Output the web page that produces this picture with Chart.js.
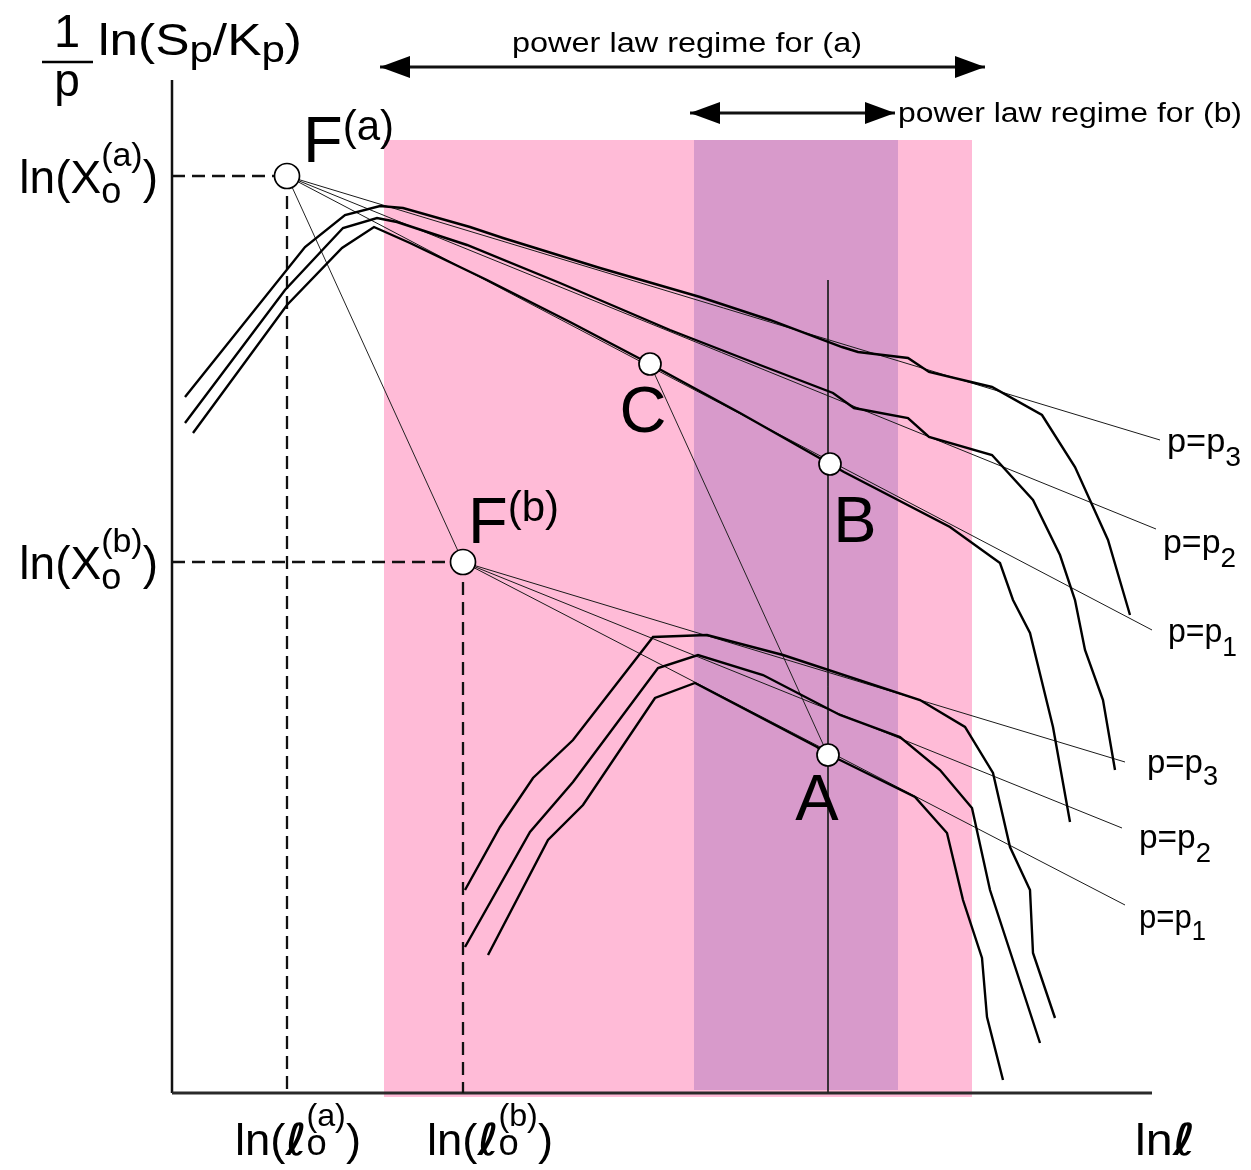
<!DOCTYPE html>
<html>
<head>
<meta charset="utf-8">
<script src="https://cdn.jsdelivr.net/npm/chart.js@4.4.1/dist/chart.umd.min.js"></script>
<style>
  html, body { margin: 0; padding: 0; background: #fff; }
  canvas { display: block; }
</style>
</head>
<body>
<canvas id="chart" width="1251" height="1170"></canvas>
<script>
// Schematic, so the scales are plain drawing units: x = ln(l), y = (1/p) ln(Sp/Kp), y grows downward
const axisH = [[172, 1093], [1152, 1093]];
const axisV = [[172, 80], [172, 1093]];
const regimeA = [384, 972];          // power law regime for (a)
const regimeB = [694, 898];          // power law regime for (b)
const regimeTop = 140;
const regimeBottomA = 1097;
const regimeBottomB = 1090;

const focusA = [287, 176];           // F(a)
const focusB = [463, 562];           // F(b)
const pointC = [650, 364];
const pointB = [830, 464];
const pointA = [828, 755];

// curve family (a), top to bottom
const upperP3 = [[185, 397], [305, 247], [345, 215], [380, 206], [403, 208], [470, 227], [503, 238], [600, 268], [700, 297],
  [770, 320], [842, 347], [858, 352], [908, 358], [929, 372], [992, 387], [1042, 415], [1075, 467], [1108, 540], [1130, 615]];
const upperP2 = [[185, 423], [285, 290], [343, 228], [377, 218], [397, 222], [467, 245], [560, 283], [670, 330], [760, 365],
  [833, 393], [854, 408], [908, 418], [929, 437], [992, 455], [1033, 500], [1060, 555], [1075, 600], [1085, 650], [1103, 700], [1115, 770]];
const upperP1 = [[193, 433], [287, 305], [342, 248], [374, 227], [410, 243], [487, 280], [570, 322], [650, 364], [740, 413],
  [830, 464], [844, 472], [950, 527], [1000, 563], [1013, 600], [1030, 633], [1053, 727], [1070, 822]];

// curve family (b), top to bottom
const lowerP3 = [[465, 890], [500, 827], [533, 778], [573, 740], [653, 637], [707, 635], [783, 655], [920, 700], [965, 727],
  [993, 773], [1010, 847], [1030, 890], [1033, 953], [1055, 1018]];
const lowerP2 = [[465, 947], [530, 832], [573, 782], [658, 668], [698, 655], [763, 675], [840, 715], [900, 737], [940, 770],
  [972, 808], [990, 890], [1040, 1043]];
const lowerP1 = [[488, 955], [548, 840], [583, 805], [655, 698], [695, 683], [817, 747], [828, 755], [840, 760], [915, 797],
  [947, 833], [963, 900], [982, 958], [987, 1017], [1003, 1080]];

// straight power-law fits through the focal points (ends at the p labels)
const raysA = [[1160, 440], [1156, 529], [1152, 630]];
const raysB = [[1125, 762], [1122, 828], [1125, 905]];
const guideAB = [focusA, focusB];
const guideCA = [pointC, pointA];
const guideVertical = [[828, 280], [828, 1093]];

const dashA = [[[172, 176], focusA], [focusA, [287, 1093]]];
const dashB = [[[172, 562], focusB], [focusB, [463, 1093]]];

const arrowA = [[380, 67], [985, 67]];
const arrowB = [[690, 113], [895, 113]];

const SANS = '"Liberation Sans", Arial, sans-serif';
const SCRIPT_L = '"DejaVu Sans", sans-serif';

const pts = arr => arr.map(p => ({ x: p[0], y: p[1] }));
const rect = (x0, x1, y0, y1) => pts([[x0, y0], [x1, y0], [x1, y1], [x0, y1], [x0, y0]]);

function line(data, opts) {
  return Object.assign({
    data: pts(data), showLine: true, pointRadius: 0, borderColor: '#000', borderWidth: 2.4,
    fill: false, tension: 0, order: 3
  }, opts);
}

const datasets = [];
datasets.push({
  data: pts([focusA, focusB]), showLine: false, pointRadius: 12.5, pointBackgroundColor: '#fff',
  pointBorderColor: '#000', pointBorderWidth: 1.7, order: 0
});
datasets.push({
  data: pts([pointC, pointB, pointA]), showLine: false, pointRadius: 11, pointBackgroundColor: '#fff',
  pointBorderColor: '#000', pointBorderWidth: 1.7, order: 0
});
[upperP3, upperP2, upperP1, lowerP3, lowerP2, lowerP1].forEach(c => datasets.push(line(c)));
raysA.forEach(e => datasets.push(line([focusA, e], { borderWidth: 1, borderColor: '#1a1a1a', order: 4 })));
raysB.forEach(e => datasets.push(line([focusB, e], { borderWidth: 1, borderColor: '#1a1a1a', order: 4 })));
[guideAB, guideCA, guideVertical].forEach(g => datasets.push(line(g, { borderWidth: 1, borderColor: '#222', order: 4 })));
dashA.concat(dashB).forEach(d => datasets.push(line(d, { borderWidth: 2.3, borderDash: [13, 7], borderColor: '#111', order: 5 })));
datasets.push(line(axisH, { borderWidth: 3, borderColor: '#2a2a2a', order: 6 }));
datasets.push(line(axisV, { borderWidth: 2.5, borderColor: '#111', order: 6 }));
datasets.push(line(arrowA, { borderWidth: 3, borderColor: '#111', order: 6, arrow: true }));
datasets.push(line(arrowB, { borderWidth: 3, borderColor: '#111', order: 6, arrow: true }));
datasets.push({
  data: rect(regimeB[0], regimeB[1], regimeTop, regimeBottomB), showLine: true, pointRadius: 0,
  borderWidth: 0, backgroundColor: '#d89acb', fill: 'shape', order: 9
});
datasets.push({
  data: rect(regimeA[0], regimeA[1], regimeTop, regimeBottomA), showLine: true, pointRadius: 0,
  borderWidth: 0, backgroundColor: '#ffbbd7', fill: 'shape', order: 10
});

// text labels: anchor in drawing units, parts flow left to right (stack = same start as previous part)
const labels = [
  { x: 98, y: 55, width: 204, parts: [{ t: 'ln(S', size: 44 }, { t: 'p', size: 36, dy: 7 }, { t: '/K', size: 44 }, { t: 'p', size: 36, dy: 7 }, { t: ')', size: 44 }] },
  { x: 67, y: 47, align: 'center', parts: [{ t: '1', size: 47 }] },
  { x: 67, y: 96, align: 'center', parts: [{ t: 'p', size: 46 }] },
  { x: 512, y: 52, width: 350, parts: [{ t: 'power law regime for (a)', size: 27 }] },
  { x: 898, y: 122, width: 344, parts: [{ t: 'power law regime for (b)', size: 27 }] },
  { x: 158, y: 193, align: 'right', parts: [{ t: 'ln(X', size: 46 }, { t: 'o', size: 36, dy: 10 }, { t: '(a)', size: 34, dy: -27, stack: true }, { t: ')', size: 46 }] },
  { x: 158, y: 579, align: 'right', parts: [{ t: 'ln(X', size: 46 }, { t: 'o', size: 36, dy: 10 }, { t: '(b)', size: 34, dy: -27, stack: true }, { t: ')', size: 46 }] },
  { x: 303, y: 162, parts: [{ t: 'F', size: 65 }, { t: '(a)', size: 42, dy: -22 }] },
  { x: 468, y: 543, parts: [{ t: 'F', size: 65 }, { t: '(b)', size: 42, dy: -22 }] },
  { x: 643, y: 432, align: 'center', parts: [{ t: 'C', size: 65 }] },
  { x: 855, y: 542, align: 'center', parts: [{ t: 'B', size: 65 }] },
  { x: 817, y: 820, align: 'center', parts: [{ t: 'A', size: 65 }] },
  { x: 1167, y: 452, width: 74, parts: [{ t: 'p=p', size: 34 }, { t: '3', size: 28, dy: 14 }] },
  { x: 1163, y: 553, width: 73, parts: [{ t: 'p=p', size: 34 }, { t: '2', size: 28, dy: 14 }] },
  { x: 1168, y: 642, width: 69, parts: [{ t: 'p=p', size: 34 }, { t: '1', size: 28, dy: 14 }] },
  { x: 1147, y: 773, width: 71, parts: [{ t: 'p=p', size: 34 }, { t: '3', size: 28, dy: 12 }] },
  { x: 1139, y: 848, width: 72, parts: [{ t: 'p=p', size: 34 }, { t: '2', size: 28, dy: 14 }] },
  { x: 1139, y: 928, width: 67, parts: [{ t: 'p=p', size: 34 }, { t: '1', size: 28, dy: 12 }] },
  { x: 235, y: 1155, width: 126, parts: [{ t: 'ln(', size: 45 }, { t: '\u2113', size: 44, family: SCRIPT_L, style: 'italic bold' }, { t: 'o', size: 36 }, { t: '(a)', size: 32, dy: -29, stack: true }, { t: ')', size: 45 }] },
  { x: 427, y: 1155, width: 126, parts: [{ t: 'ln(', size: 45 }, { t: '\u2113', size: 44, family: SCRIPT_L, style: 'italic bold' }, { t: 'o', size: 36 }, { t: '(b)', size: 32, dy: -29, stack: true }, { t: ')', size: 45 }] },
  { x: 1135, y: 1155, width: 60, parts: [{ t: 'ln', size: 45 }, { t: '\u2113', size: 44, family: SCRIPT_L, style: 'italic bold' }] }
];
const fractionBar = [[42, 62], [93, 62]];

function fontOf(p) {
  return (p.style || '') + ' ' + p.size + 'px ' + (p.family || SANS);
}

function drawLabel(ctx, xs, ys, lbl) {
  let cursor = 0, prevStart = 0;
  const placed = lbl.parts.map(p => {
    ctx.font = fontOf(p);
    const w = ctx.measureText(p.t).width;
    const start = p.stack ? prevStart : cursor;
    prevStart = start;
    cursor = Math.max(cursor, start + w);
    return { p, start };
  });
  const total = cursor;
  const sx = lbl.width ? lbl.width / total : 1;
  let x0 = xs.getPixelForValue(lbl.x);
  if (lbl.align === 'center') x0 -= total * sx / 2;
  if (lbl.align === 'right') x0 -= total * sx;
  const y0 = ys.getPixelForValue(lbl.y);
  ctx.save();
  ctx.translate(x0, y0);
  ctx.scale(sx, 1);
  ctx.fillStyle = '#000';
  ctx.textBaseline = 'alphabetic';
  ctx.textAlign = 'left';
  placed.forEach(({ p, start }) => {
    ctx.font = fontOf(p);
    ctx.fillText(p.t, start, p.dy || 0);
  });
  ctx.restore();
}

const annotate = {
  id: 'annotate',
  afterDatasetsDraw(chart) {
    const ctx = chart.ctx, xs = chart.scales.x, ys = chart.scales.y;
    // arrow heads on the regime arrows
    chart.data.datasets.forEach((ds, i) => {
      if (!ds.arrow) return;
      const el = chart.getDatasetMeta(i).data;
      const ends = [[el[0], el[1]], [el[el.length - 1], el[el.length - 2]]];
      ctx.save();
      ctx.fillStyle = '#000';
      ends.forEach(([tip, from]) => {
        const ang = Math.atan2(tip.y - from.y, tip.x - from.x);
        ctx.beginPath();
        ctx.moveTo(tip.x, tip.y);
        ctx.lineTo(tip.x - 30 * Math.cos(ang) + 11 * Math.sin(ang), tip.y - 30 * Math.sin(ang) - 11 * Math.cos(ang));
        ctx.lineTo(tip.x - 30 * Math.cos(ang) - 11 * Math.sin(ang), tip.y - 30 * Math.sin(ang) + 11 * Math.cos(ang));
        ctx.closePath();
        ctx.fill();
      });
      ctx.restore();
    });
    ctx.save();
    ctx.strokeStyle = '#000';
    ctx.lineWidth = 2.5;
    ctx.beginPath();
    ctx.moveTo(xs.getPixelForValue(fractionBar[0][0]), ys.getPixelForValue(fractionBar[0][1]));
    ctx.lineTo(xs.getPixelForValue(fractionBar[1][0]), ys.getPixelForValue(fractionBar[1][1]));
    ctx.stroke();
    ctx.restore();
    labels.forEach(l => drawLabel(ctx, xs, ys, l));
  }
};

new Chart(document.getElementById('chart'), {
  type: 'scatter',
  data: { datasets },
  options: {
    responsive: false,
    devicePixelRatio: 1,
    animation: false,
    events: [],
    layout: { padding: 0, autoPadding: false },
    plugins: { legend: { display: false }, tooltip: { enabled: false } },
    scales: {
      x: { type: 'linear', min: 0, max: 1251, display: false },
      y: { type: 'linear', min: 0, max: 1170, reverse: true, display: false }
    }
  },
  plugins: [annotate]
});
</script>
</body>
</html>
